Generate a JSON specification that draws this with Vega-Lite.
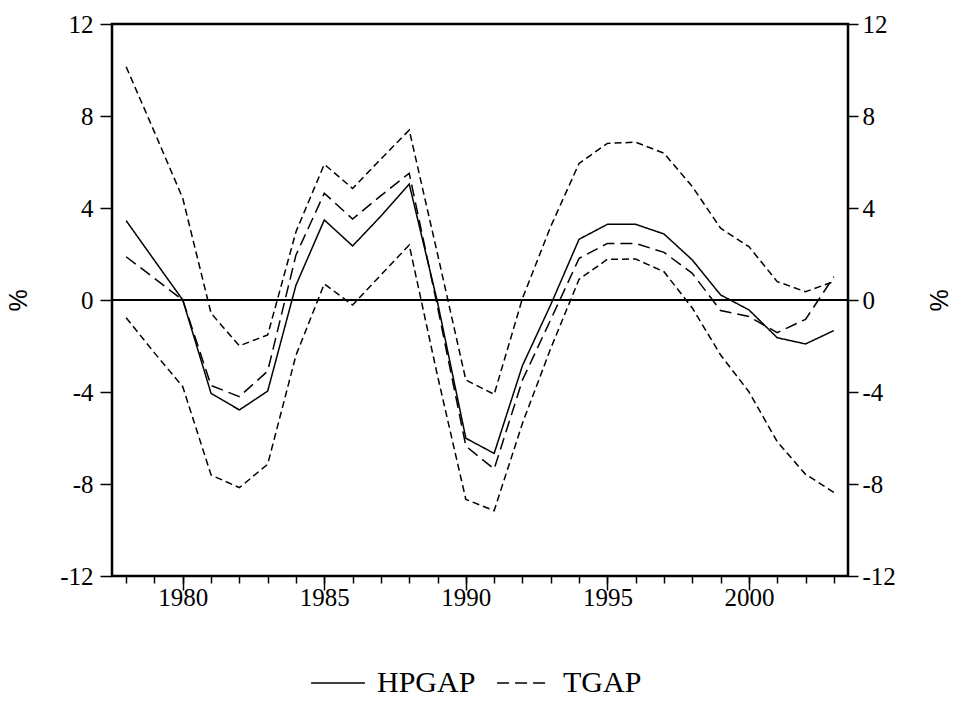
{
  "$schema": "https://vega.github.io/schema/vega-lite/v6.json",
  "width": 736,
  "height": 552,
  "autosize": "none",
  "padding": {"left": 112, "top": 24, "right": 108, "bottom": 125},
  "background": "white",
  "config": {
    "view": {"stroke": "black", "strokeWidth": 2.5},
    "axis": {
      "grid": false,
      "domain": false,
      "tickColor": "black",
      "tickWidth": 1.5,
      "labelColor": "black",
      "labelFont": "Liberation Serif",
      "labelFontSize": 25,
      "titleColor": "black",
      "titleFont": "Liberation Sans",
      "titleFontSize": 25,
      "titleFontWeight": "normal"
    },
    "legend": {
      "labelFont": "Liberation Serif",
      "labelFontSize": 30,
      "labelColor": "black"
    }
  },
  "datasets": {
    "gaps": [
      {"year": 1978, "series": "HPGAP", "value": 3.45},
      {"year": 1979, "series": "HPGAP", "value": 1.72},
      {"year": 1980, "series": "HPGAP", "value": 0.0},
      {"year": 1981, "series": "HPGAP", "value": -4.06},
      {"year": 1982, "series": "HPGAP", "value": -4.78},
      {"year": 1983, "series": "HPGAP", "value": -3.96},
      {"year": 1984, "series": "HPGAP", "value": 0.65},
      {"year": 1985, "series": "HPGAP", "value": 3.48},
      {"year": 1986, "series": "HPGAP", "value": 2.35},
      {"year": 1987, "series": "HPGAP", "value": 3.65},
      {"year": 1988, "series": "HPGAP", "value": 5.04},
      {"year": 1989, "series": "HPGAP", "value": -0.1},
      {"year": 1990, "series": "HPGAP", "value": -6.01},
      {"year": 1991, "series": "HPGAP", "value": -6.67},
      {"year": 1992, "series": "HPGAP", "value": -2.85},
      {"year": 1993, "series": "HPGAP", "value": -0.2},
      {"year": 1994, "series": "HPGAP", "value": 2.64},
      {"year": 1995, "series": "HPGAP", "value": 3.29},
      {"year": 1996, "series": "HPGAP", "value": 3.29},
      {"year": 1997, "series": "HPGAP", "value": 2.87},
      {"year": 1998, "series": "HPGAP", "value": 1.74},
      {"year": 1999, "series": "HPGAP", "value": 0.22},
      {"year": 2000, "series": "HPGAP", "value": -0.43},
      {"year": 2001, "series": "HPGAP", "value": -1.64},
      {"year": 2002, "series": "HPGAP", "value": -1.91},
      {"year": 2003, "series": "HPGAP", "value": -1.33},
      {"year": 1978, "series": "TGAP", "value": 1.88},
      {"year": 1979, "series": "TGAP", "value": 0.94},
      {"year": 1980, "series": "TGAP", "value": 0.0},
      {"year": 1981, "series": "TGAP", "value": -3.72},
      {"year": 1982, "series": "TGAP", "value": -4.2},
      {"year": 1983, "series": "TGAP", "value": -3.09},
      {"year": 1984, "series": "TGAP", "value": 1.96},
      {"year": 1985, "series": "TGAP", "value": 4.64},
      {"year": 1986, "series": "TGAP", "value": 3.52},
      {"year": 1987, "series": "TGAP", "value": 4.54},
      {"year": 1988, "series": "TGAP", "value": 5.51},
      {"year": 1989, "series": "TGAP", "value": -0.3},
      {"year": 1990, "series": "TGAP", "value": -6.35},
      {"year": 1991, "series": "TGAP", "value": -7.35},
      {"year": 1992, "series": "TGAP", "value": -3.48},
      {"year": 1993, "series": "TGAP", "value": -0.85},
      {"year": 1994, "series": "TGAP", "value": 1.81},
      {"year": 1995, "series": "TGAP", "value": 2.46},
      {"year": 1996, "series": "TGAP", "value": 2.46},
      {"year": 1997, "series": "TGAP", "value": 2.07},
      {"year": 1998, "series": "TGAP", "value": 1.16},
      {"year": 1999, "series": "TGAP", "value": -0.46},
      {"year": 2000, "series": "TGAP", "value": -0.72},
      {"year": 2001, "series": "TGAP", "value": -1.42},
      {"year": 2002, "series": "TGAP", "value": -0.84},
      {"year": 2003, "series": "TGAP", "value": 1.01},
      {"year": 1978, "series": "UPPER", "value": 10.14},
      {"year": 1979, "series": "UPPER", "value": 7.3},
      {"year": 1980, "series": "UPPER", "value": 4.42},
      {"year": 1981, "series": "UPPER", "value": -0.58},
      {"year": 1982, "series": "UPPER", "value": -1.99},
      {"year": 1983, "series": "UPPER", "value": -1.52},
      {"year": 1984, "series": "UPPER", "value": 2.97},
      {"year": 1985, "series": "UPPER", "value": 5.9},
      {"year": 1986, "series": "UPPER", "value": 4.85},
      {"year": 1987, "series": "UPPER", "value": 6.13},
      {"year": 1988, "series": "UPPER", "value": 7.39},
      {"year": 1989, "series": "UPPER", "value": 2.0},
      {"year": 1990, "series": "UPPER", "value": -3.48},
      {"year": 1991, "series": "UPPER", "value": -4.1},
      {"year": 1992, "series": "UPPER", "value": 0.07},
      {"year": 1993, "series": "UPPER", "value": 3.2},
      {"year": 1994, "series": "UPPER", "value": 5.94},
      {"year": 1995, "series": "UPPER", "value": 6.81},
      {"year": 1996, "series": "UPPER", "value": 6.86},
      {"year": 1997, "series": "UPPER", "value": 6.38},
      {"year": 1998, "series": "UPPER", "value": 4.93},
      {"year": 1999, "series": "UPPER", "value": 3.12},
      {"year": 2000, "series": "UPPER", "value": 2.32},
      {"year": 2001, "series": "UPPER", "value": 0.8},
      {"year": 2002, "series": "UPPER", "value": 0.36},
      {"year": 2003, "series": "UPPER", "value": 0.8},
      {"year": 1978, "series": "LOWER", "value": -0.77},
      {"year": 1979, "series": "LOWER", "value": -2.3},
      {"year": 1980, "series": "LOWER", "value": -3.77},
      {"year": 1981, "series": "LOWER", "value": -7.61},
      {"year": 1982, "series": "LOWER", "value": -8.16},
      {"year": 1983, "series": "LOWER", "value": -7.14},
      {"year": 1984, "series": "LOWER", "value": -2.4},
      {"year": 1985, "series": "LOWER", "value": 0.7},
      {"year": 1986, "series": "LOWER", "value": -0.22},
      {"year": 1987, "series": "LOWER", "value": 1.09},
      {"year": 1988, "series": "LOWER", "value": 2.39},
      {"year": 1989, "series": "LOWER", "value": -3.3},
      {"year": 1990, "series": "LOWER", "value": -8.67},
      {"year": 1991, "series": "LOWER", "value": -9.16},
      {"year": 1992, "series": "LOWER", "value": -5.36},
      {"year": 1993, "series": "LOWER", "value": -2.1},
      {"year": 1994, "series": "LOWER", "value": 0.9},
      {"year": 1995, "series": "LOWER", "value": 1.77},
      {"year": 1996, "series": "LOWER", "value": 1.78},
      {"year": 1997, "series": "LOWER", "value": 1.23},
      {"year": 1998, "series": "LOWER", "value": -0.35},
      {"year": 1999, "series": "LOWER", "value": -2.39},
      {"year": 2000, "series": "LOWER", "value": -3.99},
      {"year": 2001, "series": "LOWER", "value": -6.16},
      {"year": 2002, "series": "LOWER", "value": -7.58},
      {"year": 2003, "series": "LOWER", "value": -8.36}
    ]
  },
  "data": {"name": "gaps"},
  "layer": [
    {
      "transform": [{"filter": "datum.series === 'HPGAP' || datum.series === 'TGAP'"}],
      "mark": {"type": "line", "color": "black", "strokeWidth": 1.5},
      "encoding": {
        "x": {
          "field": "year", "type": "quantitative",
          "scale": {"domain": [1977.5, 2003.5], "nice": false, "zero": false},
          "axis": {"orient": "bottom", "title": null, "values": [1980, 1985, 1990, 1995, 2000], "format": "d", "tickSize": 14, "labelPadding": -5}
        },
        "y": {
          "field": "value", "type": "quantitative",
          "scale": {"domain": [-12, 12], "nice": false, "zero": false},
          "axis": {"orient": "left", "title": "%", "titleAngle": 270, "values": [-12, -8, -4, 0, 4, 8, 12], "labelExpr": "replace(datum.label, '\u2212', '-')", "tickSize": 12, "labelPadding": 7, "titlePadding": 28}
        },
        "strokeDash": {
          "field": "series", "type": "nominal",
          "scale": {"domain": ["HPGAP", "TGAP"], "range": [[1, 0], [12, 6]]},
          "legend": {
            "title": null, "orient": "none", "direction": "horizontal",
            "legendX": 198, "legendY": 631,
            "symbolType": "stroke", "symbolSize": 2900, "symbolStrokeWidth": 1.5,
            "symbolStrokeColor": "black", "columnPadding": 18, "labelOffset": 11
          }
        }
      }
    },
    {
      "transform": [{"filter": "datum.series === 'UPPER' || datum.series === 'LOWER'"}],
      "mark": {"type": "line", "color": "black", "strokeWidth": 1.5, "strokeDash": [7, 4]},
      "encoding": {
        "x": {
          "field": "year", "type": "quantitative",
          "scale": {"domain": [1977.5, 2003.5], "nice": false, "zero": false},
          "axis": {"orient": "bottom", "title": null, "values": [1978, 1979, 1980, 1981, 1982, 1983, 1984, 1985, 1986, 1987, 1988, 1989, 1990, 1991, 1992, 1993, 1994, 1995, 1996, 1997, 1998, 1999, 2000, 2001, 2002, 2003], "labels": false, "tickSize": 7}
        },
        "y": {
          "field": "value", "type": "quantitative",
          "scale": {"domain": [-12, 12], "nice": false, "zero": false},
          "axis": {"orient": "right", "title": "%", "titleAngle": 270, "values": [-12, -8, -4, 0, 4, 8, 12], "labelExpr": "replace(datum.label, '\u2212', '-')", "tickSize": 10, "labelPadding": 4, "titlePadding": 57}
        },
        "detail": {"field": "series", "type": "nominal"}
      }
    },
    {
      "mark": {"type": "rule", "color": "black", "strokeWidth": 1.5},
      "encoding": {
        "y": {"datum": 0, "type": "quantitative", "scale": {"domain": [-12, 12], "nice": false, "zero": false}, "axis": null}
      }
    }
  ],
  "resolve": {"scale": {"x": "independent", "y": "independent", "strokeDash": "independent"}}
}
